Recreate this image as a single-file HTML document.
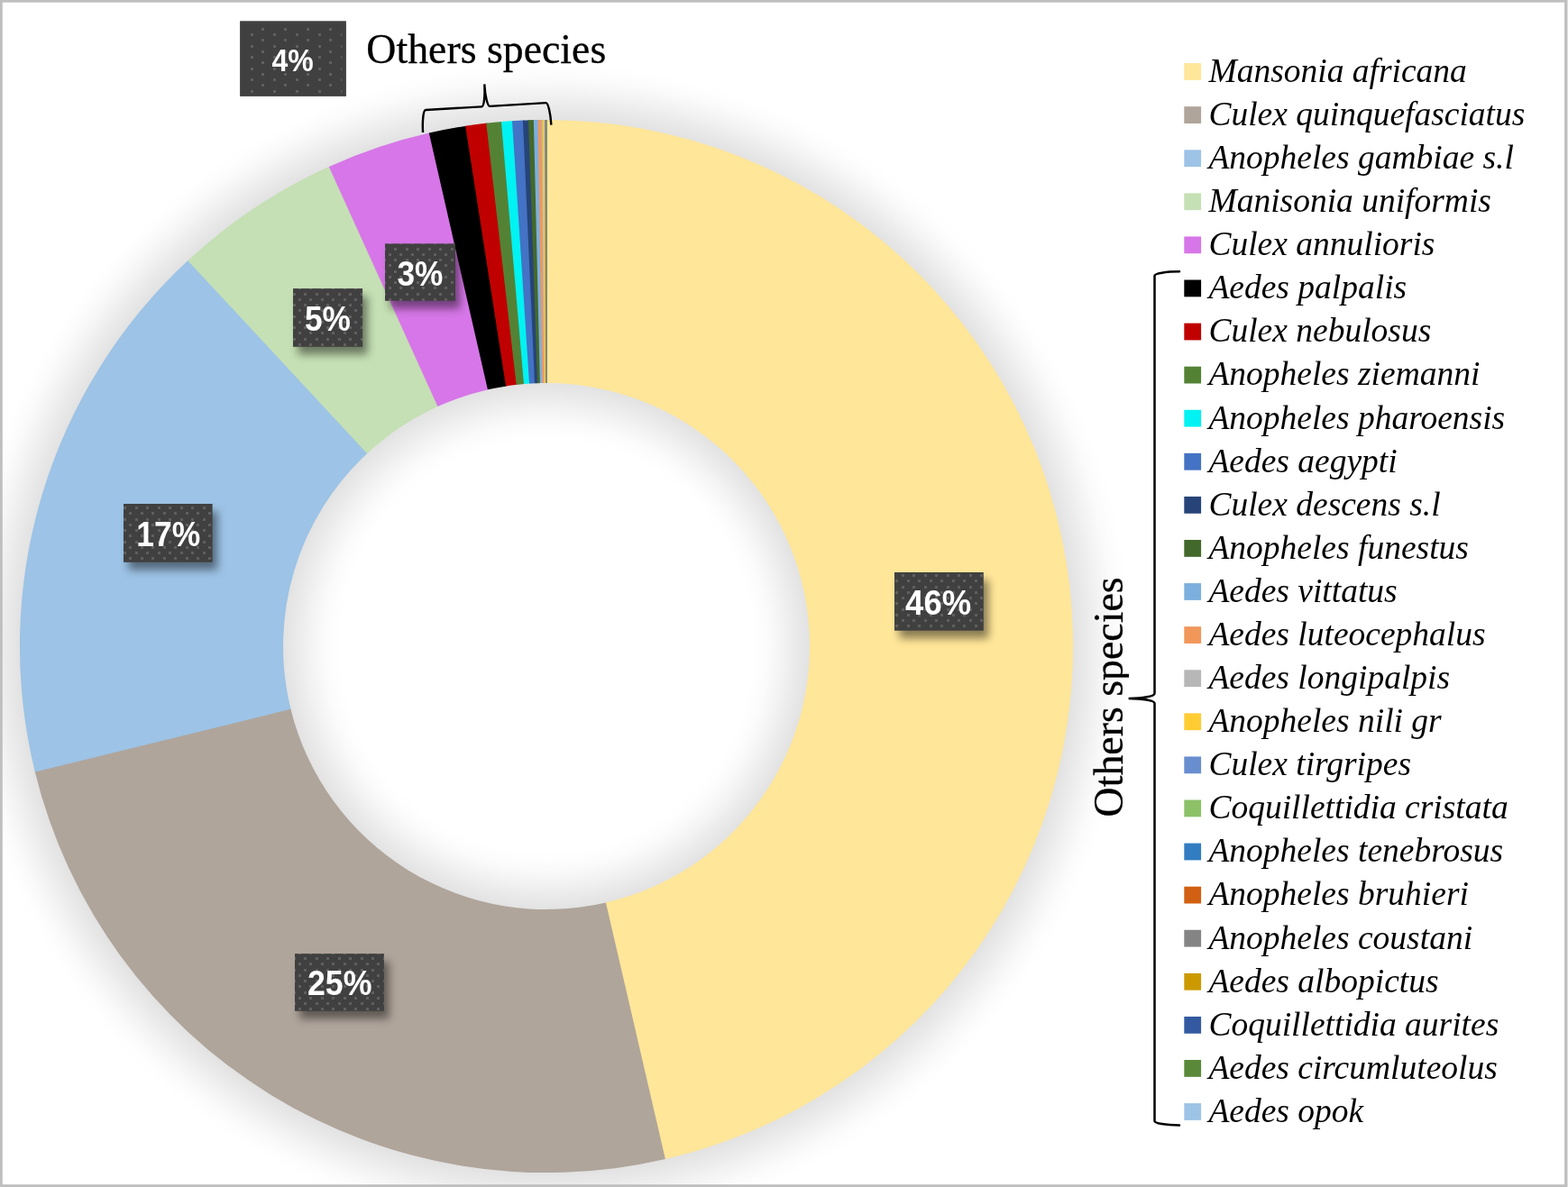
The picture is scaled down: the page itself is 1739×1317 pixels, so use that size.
<!DOCTYPE html>
<html lang="en"><head><meta charset="utf-8"><title>Mosquito species composition</title>
<style>
html,body{margin:0;padding:0;background:#fff;}
body{width:1739px;height:1317px;overflow:hidden;}
svg{display:block;}
.leg{font-family:"Liberation Serif","DejaVu Serif",serif;font-style:italic;font-size:37.5px;fill:#000;}
.ttl{font-family:"Liberation Serif","DejaVu Serif",serif;font-size:45.83px;fill:#000;stroke:#000;stroke-width:0.3px;}
.dl{font-family:"Liberation Sans","DejaVu Sans",sans-serif;font-weight:bold;fill:#fff;}
</style></head><body>
<svg width="1739" height="1317" viewBox="0 0 1739 1317">
<defs>
<radialGradient id="ringsh" gradientUnits="userSpaceOnUse" cx="606.0" cy="717.0" r="650.1"><stop offset="0.3476" stop-color="#000" stop-opacity="0.0000"/><stop offset="0.3599" stop-color="#000" stop-opacity="0.0039"/><stop offset="0.3692" stop-color="#000" stop-opacity="0.0090"/><stop offset="0.3815" stop-color="#000" stop-opacity="0.0196"/><stop offset="0.4030" stop-color="#000" stop-opacity="0.0471"/><stop offset="0.4236" stop-color="#000" stop-opacity="0.0784"/><stop offset="0.4369" stop-color="#000" stop-opacity="0.0965"/><stop offset="0.4492" stop-color="#000" stop-opacity="0.1137"/><stop offset="0.8985" stop-color="#000" stop-opacity="0.1137"/><stop offset="0.9108" stop-color="#000" stop-opacity="0.0965"/><stop offset="0.9240" stop-color="#000" stop-opacity="0.0784"/><stop offset="0.9446" stop-color="#000" stop-opacity="0.0471"/><stop offset="0.9662" stop-color="#000" stop-opacity="0.0196"/><stop offset="0.9785" stop-color="#000" stop-opacity="0.0090"/><stop offset="0.9877" stop-color="#000" stop-opacity="0.0039"/><stop offset="1.0000" stop-color="#000" stop-opacity="0.0000"/></radialGradient>
<filter id="lblsh" x="-30%" y="-30%" width="170%" height="180%" color-interpolation-filters="sRGB">
  <feGaussianBlur stdDeviation="5"/>
</filter>
<pattern id="dots" patternUnits="userSpaceOnUse" x="0" y="0" width="25" height="25">
  <rect x="0" y="0" width="25" height="25" fill="#404040"/>
  <path fill="#5F5F5F" d="M0,0h3v3h-3zM12,0h3v3h-3zM0,12h3v3h-3zM12,12h3v3h-3zM6,6h3v3h-3zM18,6h3v3h-3zM6,18h3v3h-3zM18,18h3v3h-3z"/>
</pattern>
<pattern id="dots2" patternUnits="userSpaceOnUse" x="0" y="0" width="25" height="25">
  <rect x="0" y="0" width="25" height="25" fill="#404040"/>
  <path fill="#5F5F5F" d="M3,0h3v3h-3zM3,12h3v3h-3zM15,6h3v3h-3zM15,18h3v3h-3z"/>
</pattern>
<clipPath id="vclip"><rect x="1200" y="620" width="52" height="300"/></clipPath>
</defs>
<rect x="0" y="0" width="1739" height="1317" fill="#fff"/>
<circle cx="606.0" cy="717.0" r="650.1" fill="url(#ringsh)"/>
<g shape-rendering="geometricPrecision">
<path d="M606.66,132.90A584.1,584.1 0 0 1 736.70,1286.29L671.34,1001.60A292.0,292.0 0 0 0 606.33,425.00Z" fill="#FFE699"/>
<path d="M737.89,1286.01A584.1,584.1 0 0 1 38.54,855.44L322.32,786.21A292.0,292.0 0 0 0 671.93,1001.46Z" fill="#B0A59B"/>
<path d="M38.83,856.62A584.1,584.1 0 0 1 209.21,288.36L407.64,502.72A292.0,292.0 0 0 0 322.47,786.80Z" fill="#9DC3E6"/>
<path d="M208.32,289.19A584.1,584.1 0 0 1 365.91,184.52L485.98,450.81A292.0,292.0 0 0 0 407.19,503.13Z" fill="#C5E0B4"/>
<path d="M364.80,185.03A584.1,584.1 0 0 1 476.99,147.33L541.51,432.21A292.0,292.0 0 0 0 485.42,451.06Z" fill="#D776E8"/>
<path d="M475.80,147.60A584.1,584.1 0 0 1 517.35,139.67L561.68,428.38A292.0,292.0 0 0 0 540.91,432.35Z" fill="#000000"/>
<path d="M516.14,139.85A584.1,584.1 0 0 1 540.49,136.59L573.25,426.84A292.0,292.0 0 0 0 561.08,428.48Z" fill="#C00000"/>
<path d="M539.27,136.72A584.1,584.1 0 0 1 557.12,134.95L581.57,426.02A292.0,292.0 0 0 0 572.64,426.91Z" fill="#548235"/>
<path d="M555.90,135.05A584.1,584.1 0 0 1 569.22,134.06L587.61,425.58A292.0,292.0 0 0 0 580.96,426.08Z" fill="#00F2F2"/>
<path d="M568.00,134.14A584.1,584.1 0 0 1 581.13,133.43L593.57,425.26A292.0,292.0 0 0 0 587.00,425.62Z" fill="#4472C4"/>
<path d="M579.91,133.48A584.1,584.1 0 0 1 587.25,133.20L596.62,425.15A292.0,292.0 0 0 0 592.96,425.29Z" fill="#264478"/>
<path d="M586.02,133.24A584.1,584.1 0 0 1 593.05,133.04L599.53,425.07A292.0,292.0 0 0 0 596.01,425.17Z" fill="#43682B"/>
<path d="M591.83,133.07A584.1,584.1 0 0 1 597.84,132.96L601.92,425.03A292.0,292.0 0 0 0 598.92,425.09Z" fill="#7CAFDD"/>
<path d="M596.62,132.98A584.1,584.1 0 0 1 601.51,132.92L603.76,425.01A292.0,292.0 0 0 0 601.31,425.04Z" fill="#F1975A"/>
<path d="M600.29,132.93A584.1,584.1 0 0 1 603.15,132.91L604.57,425.00A292.0,292.0 0 0 0 603.15,425.01Z" fill="#B7B7B7"/>
<path d="M601.92,132.91A584.1,584.1 0 0 1 605.18,132.90L605.59,425.00A292.0,292.0 0 0 0 603.96,425.01Z" fill="#FFCD33"/>
<path d="M603.96,132.90A584.1,584.1 0 0 1 606.31,132.90L606.15,425.00A292.0,292.0 0 0 0 604.98,425.00Z" fill="#698ED0"/>
<path d="M605.08,132.90A584.1,584.1 0 0 1 606.39,132.90L606.19,425.00A292.0,292.0 0 0 0 605.54,425.00Z" fill="#8CC168"/>
<path d="M605.16,132.90A584.1,584.1 0 0 1 606.46,132.90L606.23,425.00A292.0,292.0 0 0 0 605.58,425.00Z" fill="#327DC2"/>
<path d="M605.24,132.90A584.1,584.1 0 0 1 606.66,132.90L606.33,425.00A292.0,292.0 0 0 0 605.62,425.00Z" fill="#D26012"/>
<path d="M605.54,132.90A584.1,584.1 0 0 1 606.66,132.90L606.33,425.00A292.0,292.0 0 0 0 605.77,425.00Z" fill="#848484"/>
<path d="M605.75,132.90A584.1,584.1 0 0 1 606.66,132.90L606.33,425.00A292.0,292.0 0 0 0 605.87,425.00Z" fill="#CC9A00"/>
<path d="M606.00,132.90A584.1,584.1 0 0 1 606.66,132.90L606.33,425.00A292.0,292.0 0 0 0 606.00,425.00Z" fill="#335AA1"/>
<path d="M606.10,132.90A584.1,584.1 0 0 1 606.66,132.90L606.33,425.00A292.0,292.0 0 0 0 606.05,425.00Z" fill="#5A8A39"/>
<path d="M606.31,132.90A584.1,584.1 0 0 1 606.66,132.90L606.33,425.00A292.0,292.0 0 0 0 606.15,425.00Z" fill="#9DC3E6"/>
</g>
<path d="M-71.28,0 A4.5,24.75 0 0 1 -66.78,-24.75 L-4.50,-24.75 A4.5,24.75 0 0 0 0,-49.50 A4.5,24.75 0 0 0 4.50,-24.75 L66.78,-24.75 A4.5,24.75 0 0 1 71.28,0" transform="translate(540.2,142.8) rotate(-3.4)" fill="none" stroke="#000" stroke-width="2.4"/>
<path d="M1308.0,301.3 A27.50,4.6 0 0 0 1280.5,305.90000000000003 L1280.5,769.5 A28.90,5.4 0 0 1 1251.6,774.9 A28.90,5.4 0 0 1 1280.5,780.3 L1280.5,1243.8000000000002 A27.50,4.6 0 0 0 1308.0,1248.4" fill="none" stroke="#000" stroke-width="2.5" stroke-linecap="round"/>
<text class="ttl" x="406.3" y="69.6" font-size="46">Others species</text>
<g clip-path="url(#vclip)"><text class="ttl" transform="translate(1244.7,906.4) rotate(-90)" x="0" y="0" font-size="46">Others species</text></g>
<rect x="266.1" y="23.3" width="117.8" height="83.6" fill="#404040"/>
<rect x="270" y="28.2" width="109.3" height="75.3" fill="url(#dots2)"/>
<text class="dl" x="324.5" y="79.0" font-size="35.0" text-anchor="middle" textLength="46.2" lengthAdjust="spacingAndGlyphs">4%</text>
<rect x="432.5" y="278.8" width="78.0" height="63.5" fill="#000" fill-opacity="0.46" filter="url(#lblsh)"/>
<rect x="427.0" y="270.3" width="78.0" height="63.5" fill="url(#dots)"/>
<text class="dl" x="465.9" y="316.7" font-size="38.3" text-anchor="middle" textLength="50.9" lengthAdjust="spacingAndGlyphs">3%</text>
<rect x="330.5" y="328.6" width="77.1" height="64.7" fill="#000" fill-opacity="0.46" filter="url(#lblsh)"/>
<rect x="325.0" y="320.1" width="77.1" height="64.7" fill="url(#dots)"/>
<text class="dl" x="363.5" y="367.0" font-size="38.3" text-anchor="middle" textLength="51.0" lengthAdjust="spacingAndGlyphs">5%</text>
<rect x="142.5" y="567.5" width="98.6" height="64.8" fill="#000" fill-opacity="0.46" filter="url(#lblsh)"/>
<rect x="137.0" y="559.0" width="98.6" height="64.8" fill="url(#dots)"/>
<text class="dl" x="186.8" y="605.9" font-size="38.3" text-anchor="middle" textLength="71.0" lengthAdjust="spacingAndGlyphs">17%</text>
<rect x="332.5" y="1066.6" width="98.9" height="63.7" fill="#000" fill-opacity="0.46" filter="url(#lblsh)"/>
<rect x="327.0" y="1058.1" width="98.9" height="63.7" fill="url(#dots)"/>
<text class="dl" x="376.7" y="1104.1" font-size="38.3" text-anchor="middle" textLength="71.6" lengthAdjust="spacingAndGlyphs">25%</text>
<rect x="997.5" y="643.5" width="98.8" height="64.7" fill="#000" fill-opacity="0.46" filter="url(#lblsh)"/>
<rect x="992.0" y="635.0" width="98.8" height="64.7" fill="url(#dots)"/>
<text class="dl" x="1040.6" y="681.8" font-size="38.3" text-anchor="middle" textLength="73.0" lengthAdjust="spacingAndGlyphs">46%</text>
<rect x="1313.3" y="70.10" width="18.8" height="18.8" fill="#FFE699"/>
<text class="leg" x="1340.4" y="90.90">Mansonia africana</text>
<rect x="1313.3" y="118.18" width="18.8" height="18.8" fill="#B0A59B"/>
<text class="leg" x="1340.4" y="138.98">Culex quinquefasciatus</text>
<rect x="1313.3" y="166.27" width="18.8" height="18.8" fill="#9DC3E6"/>
<text class="leg" x="1340.4" y="187.07">Anopheles gambiae s.l</text>
<rect x="1313.3" y="214.35" width="18.8" height="18.8" fill="#C5E0B4"/>
<text class="leg" x="1340.4" y="235.15">Manisonia uniformis</text>
<rect x="1313.3" y="262.43" width="18.8" height="18.8" fill="#D776E8"/>
<text class="leg" x="1340.4" y="283.23">Culex annulioris</text>
<rect x="1313.3" y="310.51" width="18.8" height="18.8" fill="#000000"/>
<text class="leg" x="1340.4" y="331.31">Aedes palpalis</text>
<rect x="1313.3" y="358.60" width="18.8" height="18.8" fill="#C00000"/>
<text class="leg" x="1340.4" y="379.40">Culex nebulosus</text>
<rect x="1313.3" y="406.68" width="18.8" height="18.8" fill="#548235"/>
<text class="leg" x="1340.4" y="427.48">Anopheles ziemanni</text>
<rect x="1313.3" y="454.76" width="18.8" height="18.8" fill="#00F2F2"/>
<text class="leg" x="1340.4" y="475.56">Anopheles pharoensis</text>
<rect x="1313.3" y="502.85" width="18.8" height="18.8" fill="#4472C4"/>
<text class="leg" x="1340.4" y="523.65">Aedes aegypti</text>
<rect x="1313.3" y="550.93" width="18.8" height="18.8" fill="#264478"/>
<text class="leg" x="1340.4" y="571.73">Culex descens s.l</text>
<rect x="1313.3" y="599.01" width="18.8" height="18.8" fill="#43682B"/>
<text class="leg" x="1340.4" y="619.81">Anopheles funestus</text>
<rect x="1313.3" y="647.10" width="18.8" height="18.8" fill="#7CAFDD"/>
<text class="leg" x="1340.4" y="667.90">Aedes vittatus</text>
<rect x="1313.3" y="695.18" width="18.8" height="18.8" fill="#F1975A"/>
<text class="leg" x="1340.4" y="715.98">Aedes luteocephalus</text>
<rect x="1313.3" y="743.26" width="18.8" height="18.8" fill="#B7B7B7"/>
<text class="leg" x="1340.4" y="764.06">Aedes longipalpis</text>
<rect x="1313.3" y="791.35" width="18.8" height="18.8" fill="#FFCD33"/>
<text class="leg" x="1340.4" y="812.14">Anopheles nili gr</text>
<rect x="1313.3" y="839.43" width="18.8" height="18.8" fill="#698ED0"/>
<text class="leg" x="1340.4" y="860.23">Culex tirgripes</text>
<rect x="1313.3" y="887.51" width="18.8" height="18.8" fill="#8CC168"/>
<text class="leg" x="1340.4" y="908.31">Coquillettidia cristata</text>
<rect x="1313.3" y="935.59" width="18.8" height="18.8" fill="#327DC2"/>
<text class="leg" x="1340.4" y="956.39">Anopheles tenebrosus</text>
<rect x="1313.3" y="983.68" width="18.8" height="18.8" fill="#D26012"/>
<text class="leg" x="1340.4" y="1004.48">Anopheles bruhieri</text>
<rect x="1313.3" y="1031.76" width="18.8" height="18.8" fill="#848484"/>
<text class="leg" x="1340.4" y="1052.56">Anopheles coustani</text>
<rect x="1313.3" y="1079.84" width="18.8" height="18.8" fill="#CC9A00"/>
<text class="leg" x="1340.4" y="1100.64">Aedes albopictus</text>
<rect x="1313.3" y="1127.93" width="18.8" height="18.8" fill="#335AA1"/>
<text class="leg" x="1340.4" y="1148.73">Coquillettidia aurites</text>
<rect x="1313.3" y="1176.01" width="18.8" height="18.8" fill="#5A8A39"/>
<text class="leg" x="1340.4" y="1196.81">Aedes circumluteolus</text>
<rect x="1313.3" y="1224.09" width="18.8" height="18.8" fill="#9DC3E6"/>
<text class="leg" x="1340.4" y="1244.89">Aedes opok</text>
<rect x="0" y="0" width="1739" height="2.7" fill="#BFBFBF"/>
<rect x="0" y="1314.2" width="1739" height="2.8" fill="#BFBFBF"/>
<rect x="0" y="0" width="2.8" height="1317" fill="#BFBFBF"/>
<rect x="1735.1" y="0" width="2.9" height="1317" fill="#BFBFBF"/>
<rect x="1738" y="0" width="1" height="1317" fill="#E0E0E0"/>
</svg></body></html>
